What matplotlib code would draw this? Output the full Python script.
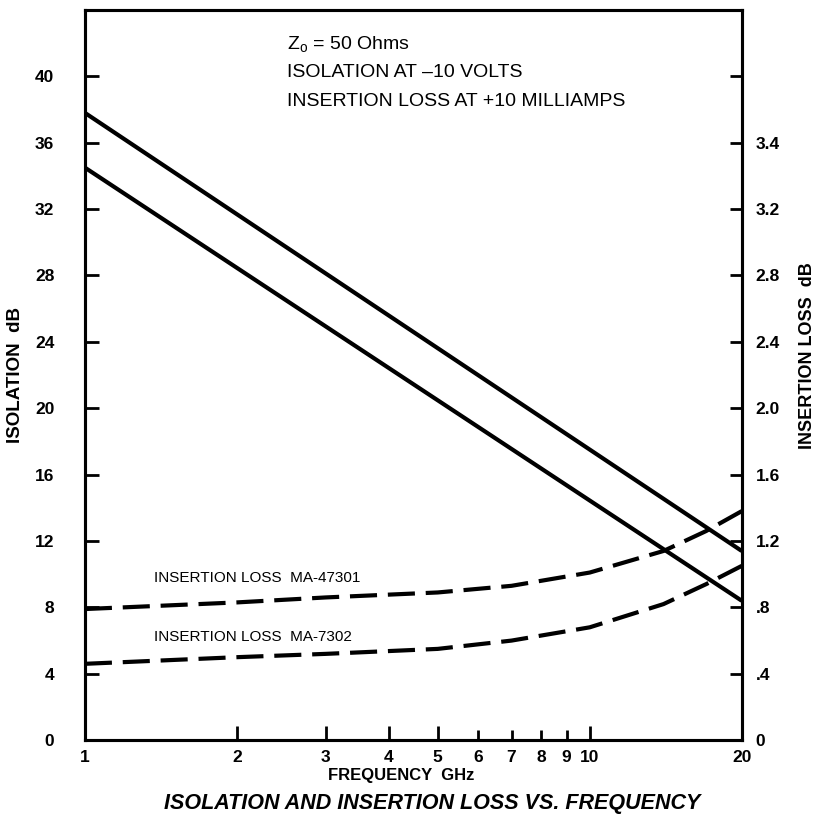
import matplotlib.pyplot as plt
import numpy as np

plt.rcParams['font.family'] = ['Liberation Sans', 'DejaVu Sans']

# isolation lines (left axis, dB) - straight on log freq
iso_f = [1, 20]
iso_a = [37.8, 11.4]   # upper line
iso_b = [34.5, 8.4]    # lower line

# insertion loss curves (right axis, dB)
il_f = [1, 2, 3, 5, 7, 10, 14, 17, 20]
il_47301 = [0.79, 0.83, 0.86, 0.89, 0.93, 1.01, 1.14, 1.26, 1.38]
il_7302 = [0.46, 0.50, 0.52, 0.55, 0.60, 0.68, 0.82, 0.94, 1.05]

xticks = [1, 2, 3, 4, 5, 6, 7, 8, 9, 10, 20]
left_ticks = [0, 4, 8, 12, 16, 20, 24, 28, 32, 36, 40]
right_ticks = [0, 0.4, 0.8, 1.2, 1.6, 2.0, 2.4, 2.8, 3.2, 3.6, 4.0]
right_labels = ['0', '.4', '.8', '1.2', '1.6', '2.0', '2.4', '2.8', '3.2', '3.4', '']

fig = plt.figure(figsize=(8.16, 8.27), dpi=100)
ax = fig.add_axes([0.104, 0.105, 0.805, 0.883])
ax2 = ax.twinx()

ax.plot(iso_f, iso_a, color='black', lw=3.0, solid_capstyle='butt')
ax.plot(iso_f, iso_b, color='black', lw=3.0, solid_capstyle='butt')
ax2.plot(il_f, il_47301, color='black', lw=3.0, dashes=(6.5, 2.6))
ax2.plot(il_f, il_7302, color='black', lw=3.0, dashes=(6.5, 2.6))

ax.set_xscale('log')
ax.set_xlim(1, 20)
ax.set_ylim(0, 44)
ax2.set_ylim(0, 4.4)

ax.xaxis.set_minor_locator(plt.NullLocator())
ax.set_xticks(xticks)
ax.set_xticklabels([str(v) for v in xticks])
ax.set_yticks(left_ticks)
ax.set_yticklabels([str(v) for v in left_ticks])
ax2.set_yticks(right_ticks)
ax2.set_yticklabels(right_labels)

for a in (ax, ax2):
    for s in a.spines.values():
        s.set_linewidth(2.2)

ax.tick_params(axis='y', direction='in', length=10, width=2, pad=22, labelsize=12.5)
ax2.tick_params(axis='y', direction='in', length=9, width=2, pad=10, labelsize=12.5)
ax.tick_params(axis='x', direction='in', length=10, width=2, pad=7, labelsize=12.5)
for lbl in ax.get_xticklabels() + ax.get_yticklabels() + ax2.get_yticklabels():
    lbl.set_fontweight('bold')
# shorter ticks at 6..9 and none at the edges
for t, v in zip(ax.xaxis.get_major_ticks(), xticks):
    if v in (6, 7, 8, 9):
        t.tick1line.set_markersize(7)
    if v in (1, 20):
        t.tick1line.set_markersize(0)

ax.set_xlabel('FREQUENCY  GHz', fontsize=12, fontweight='bold')
ax.xaxis.set_label_coords(0.481, -0.038)
ax.set_ylabel('ISOLATION  dB', fontsize=13.5, fontweight='bold', labelpad=8)
ax2.set_ylabel('INSERTION LOSS  dB', fontsize=13, fontweight='bold', rotation=90)
ax2.yaxis.set_label_coords(1.087, 0.527)

ax.text(2.51, 41.9, r'Z$_{\mathregular{o}}$ = 50 Ohms', fontsize=14, va='center')
ax.text(2.51, 40.2, 'ISOLATION AT \u201310 VOLTS', fontsize=14, va='center')
ax.text(2.51, 38.5, 'INSERTION LOSS AT +10 MILLIAMPS', fontsize=14, va='center')

ax.text(1.37, 9.8, 'INSERTION LOSS  MA-47301', fontsize=11, va='center')
ax.text(1.37, 6.2, 'INSERTION LOSS  MA-7302', fontsize=11, va='center')

fig.text(0.53, 0.028, 'ISOLATION AND INSERTION LOSS VS. FREQUENCY', fontsize=15.5,
         fontweight='bold', style='italic', ha='center', va='center')

fig.savefig('out.png', dpi=100)
